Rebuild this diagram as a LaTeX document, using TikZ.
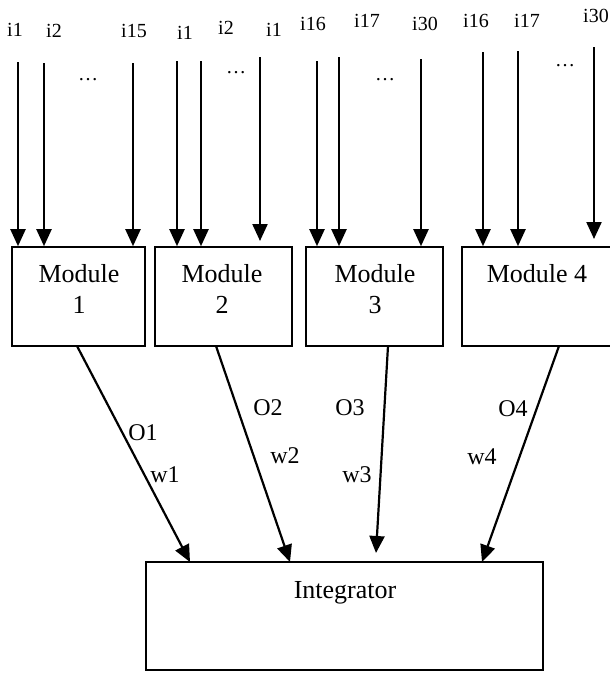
\documentclass[tikz,border=0pt]{standalone}
\usepackage{fontspec}
\setmainfont{Liberation Serif}
\usetikzlibrary{arrows.meta}
\begin{document}
\begin{tikzpicture}[x=1pt,y=-1pt,
  box/.style={draw,line width=1.6pt,inner sep=0pt},
  arr/.style={line width=2.2pt,-{Triangle[length=17pt,width=15pt]}},
  big/.style={font=\fontsize{26}{31}\selectfont,inner sep=0pt,align=center,anchor=base},
  lab/.style={font=\fontsize{24}{28}\selectfont,inner sep=0pt},
  inp/.style={font=\fontsize{20}{24}\selectfont,inner sep=0pt,anchor=base}]
\useasboundingbox (0,0) rectangle (610,673);

% boxes
\node[box,minimum width=133pt,minimum height=99pt] (m1) at (78.5,296.5) {};
\node[box,minimum width=137pt,minimum height=99pt] (m2) at (223.5,296.5) {};
\node[box,minimum width=137pt,minimum height=99pt] (m3) at (374.5,296.5) {};
\node[box,minimum width=150pt,minimum height=99pt] (m4) at (537,296.5) {};
\node[box,minimum width=397pt,minimum height=108pt] (ig) at (344.5,616) {};

% box texts
\node[big] (t1) at (79,313) {Module\\1};
\node[big] (t2) at (222,313) {Module\\2};
\node[big] (t3) at (375,313) {Module\\3};
\node[big] (t4) at (537,282) {Module 4};
\node[big] (ti) at (345,598) {Integrator};

% input labels
\node[inp] (l1) at (15,36) {i1};
\node[inp] (l2) at (54,37) {i2};
\node[inp] (l3) at (134,37) {i15};
\node[inp] (l4) at (185,39) {i1};
\node[inp] (l5) at (226,34) {i2};
\node[inp] (l6) at (274,36) {i1};
\node[inp] (l7) at (313,30) {i16};
\node[inp] (l8) at (367,27) {i17};
\node[inp] (l9) at (425,30) {i30};
\node[inp] (l10) at (476,27) {i16};
\node[inp] (l11) at (527,27) {i17};
\node[inp] (l12) at (596,22) {i30};

% dots
\node[inp] (d1) at (88,80) {\dots};
\node[inp] (d2) at (236,73) {\dots};
\node[inp] (d3) at (385,80) {\dots};
\node[inp] (d4) at (565,66) {\dots};

% input arrow starts
\coordinate (a1) at (18,62);
\coordinate (a2) at (44,63);
\coordinate (a3) at (133,63);
\coordinate (a4) at (177,61);
\coordinate (a5) at (201,61);
\coordinate (a6) at (260,57);
\coordinate (a7) at (317,61);
\coordinate (a8) at (339,57);
\coordinate (a9) at (421,59);
\coordinate (a10) at (483,52);
\coordinate (a11) at (518,51);
\coordinate (a12) at (594,47);
\coordinate (e6) at (260,241);
\coordinate (e12) at (594,239);

\draw[arr] (a1) -- (a1 |- m1.north);
\draw[arr] (a2) -- (a2 |- m1.north);
\draw[arr] (a3) -- (a3 |- m1.north);
\draw[arr] (a4) -- (a4 |- m2.north);
\draw[arr] (a5) -- (a5 |- m2.north);
\draw[arr] (a6) -- (e6);
\draw[arr] (a7) -- (a7 |- m3.north);
\draw[arr] (a8) -- (a8 |- m3.north);
\draw[arr] (a9) -- (a9 |- m3.north);
\draw[arr] (a10) -- (a10 |- m4.north);
\draw[arr] (a11) -- (a11 |- m4.north);
\draw[arr] (a12) -- (e12);

% outputs
\coordinate (s1) at (77,346);
\coordinate (s2) at (216,346);
\coordinate (s3) at (388,346);
\coordinate (s4) at (559,346);
\coordinate (f1) at (190,562);
\coordinate (f2) at (290,562);
\coordinate (f3) at (376,553);
\coordinate (f4) at (482,562);
\draw[arr] (s1) -- (f1);
\draw[arr] (s2) -- (f2);
\draw[arr] (s3) -- (f3);
\draw[arr] (s4) -- (f4);

% output labels
\node[lab] (o1) at (143,433) {O1};
\node[lab] (w1) at (165,475) {w1};
\node[lab] (o2) at (268,408) {O2};
\node[lab] (w2) at (285,456) {w2};
\node[lab] (o3) at (350,408) {O3};
\node[lab] (w3) at (357,475) {w3};
\node[lab] (o4) at (513,409) {O4};
\node[lab] (w4) at (482,457) {w4};
\end{tikzpicture}
\end{document}
